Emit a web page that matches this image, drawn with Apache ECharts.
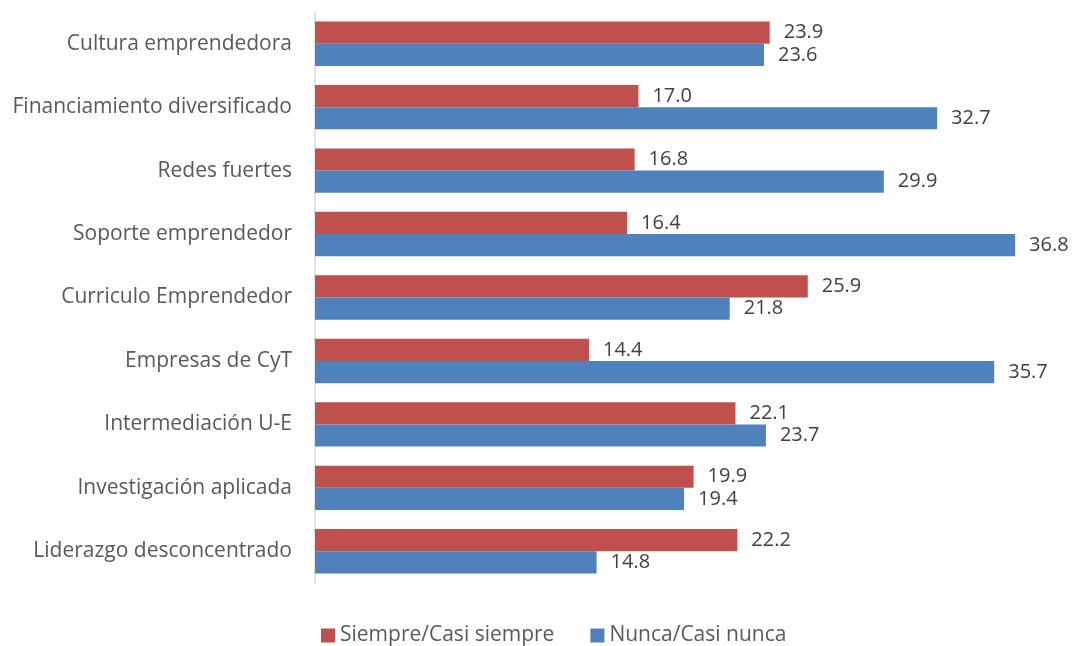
<!DOCTYPE html>
<html><head><meta charset="utf-8">
<script src="https://cdn.jsdelivr.net/npm/echarts@6/dist/echarts.min.js"></script>
<style>html,body{margin:0;padding:0;background:#fff}#c{width:1076px;height:646px}</style>
</head><body><div id="c"></div>
<script>
const categories = ["Cultura emprendedora","Financiamiento diversificado","Redes fuertes","Soporte emprendedor","Curriculo Emprendedor","Empresas de CyT","Intermediación U-E","Investigación aplicada","Liderazgo desconcentrado"];
const siempre = [23.9,17.0,16.8,16.4,25.9,14.4,22.1,19.9,22.2];
const nunca = [23.6,32.7,29.9,36.8,21.8,35.7,23.7,19.4,14.8];
const seriesNames = ["Siempre/Casi siempre","Nunca/Casi nunca"];
const font = "Open Sans";
const chart = echarts.init(document.getElementById('c'));
const lbl = {show:true,position:'right',distance:14,color:'#404040',fontFamily:font,fontSize:20,formatter:p=>p.value.toFixed(1)};
chart.setOption({
  animation:false,
  grid:{left:315,right:0,top:12,bottom:63,containLabel:false},
  legend:{top:625,left:321,itemWidth:14,itemHeight:14,itemGap:36,icon:'rect',padding:0,
    textStyle:{color:'#595959',fontFamily:font,fontSize:21},data:seriesNames},
  xAxis:{type:'value',min:0,max:40,show:false},
  yAxis:{type:'category',data:categories,inverse:true,
    axisLine:{lineStyle:{color:'#d9d9d9',width:1.5}},axisTick:{show:false},
    axisLabel:{color:'#595959',fontFamily:font,fontSize:21,margin:23}},
  series:[
    {name:seriesNames[0],type:'bar',data:siempre,itemStyle:{color:'#C0504D'},barGap:'0%',barCategoryGap:'30%',label:lbl},
    {name:seriesNames[1],type:'bar',data:nunca,itemStyle:{color:'#4F81BD'},barGap:'0%',barCategoryGap:'30%',label:lbl}
  ]
});
</script></body></html>
